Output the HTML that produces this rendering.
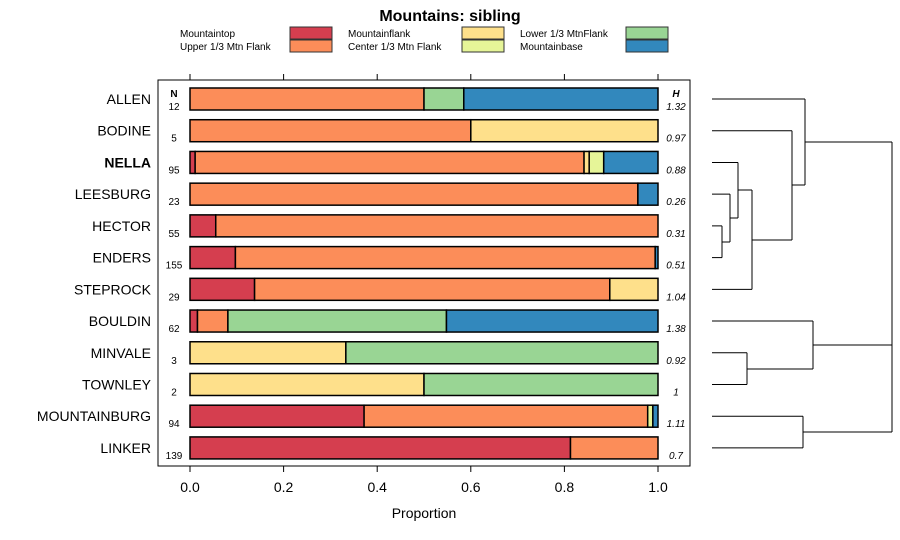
<!DOCTYPE html>
<html><head><meta charset="utf-8"><style>
body{margin:0;background:#fff;}
svg{display:block;font-family:"Liberation Sans",sans-serif;}
</style></head><body>
<svg id="chart" width="900" height="540" xmlns="http://www.w3.org/2000/svg">
<text x="450" y="21" text-anchor="middle" font-size="16" font-weight="bold">Mountains: sibling</text>
<g id="legend"></g>
<rect x="158" y="80" width="532" height="386" fill="none" stroke="#000" stroke-width="1"/>
<g id="bars"></g>
<g id="axis"></g>
<g id="dendro" stroke="#000" stroke-width="1" fill="none"></g>
<text x="424" y="518" text-anchor="middle" font-size="14">Proportion</text>
<text x="174" y="97" text-anchor="middle" font-size="10" font-weight="bold">N</text>
<text x="676" y="97" text-anchor="middle" font-size="10" font-weight="bold" font-style="italic">H</text>
</svg>
<script>
const categories=["Mountaintop","Upper 1/3 Mtn Flank","Mountainflank","Center 1/3 Mtn Flank","Lower 1/3 MtnFlank","Mountainbase"];
const colors=["#d53e4f","#fc8d59","#fee08b","#e6f598","#99d594","#3288bd"];
const sites=["ALLEN","BODINE","NELLA","LEESBURG","HECTOR","ENDERS","STEPROCK","BOULDIN","MINVALE","TOWNLEY","MOUNTAINBURG","LINKER"];
const nValues=[12,5,95,23,55,155,29,62,3,2,94,139];
const hLabels=["1.32","0.97","0.88","0.26","0.31","0.51","1.04","1.38","0.92","1","1.11","0.7"];
const sMountaintop=[0,0,0.011,0,0.055,0.097,0.138,0.016,0,0,0.372,0.813];
const sUpper=[0.5,0.6,0.831,0.957,0.945,0.897,0.759,0.065,0,0,0.606,0.187];
const sFlank=[0,0.4,0.011,0,0,0,0.103,0,0.333,0.5,0,0];
const sCenter=[0,0,0.031,0,0,0,0,0,0,0,0.011,0];
const sLower=[0.085,0,0,0,0,0,0,0.467,0.667,0.5,0,0];
const sBase=[0.415,0,0.116,0.043,0,0.006,0,0.452,0,0,0.011,0];
const ticks=[0,0.2,0.4,0.6,0.8,1.0];
const ns="http://www.w3.org/2000/svg";
function el(t,a,p){const e=document.createElementNS(ns,t);for(const k in a)e.setAttribute(k,a[k]);p.appendChild(e);return e;}
const x=v=>190+v*468;
const yRow=i=>99+i*31.72;
const series=[sMountaintop,sUpper,sFlank,sCenter,sLower,sBase];
const bars=document.getElementById('bars');
sites.forEach((s,i)=>{
  const yc=yRow(i);
  const lab=el('text',{x:151,y:yc+5,'text-anchor':'end','font-size':14,'font-weight':s==="NELLA"?'bold':'normal'},bars);
  lab.textContent=s;
  
  
  const nt=el('text',{x:174,y:yc+11,'text-anchor':'middle','font-size':10},bars);
  nt.textContent=nValues[i];
  
  
  const ht=el('text',{x:676,y:yc+11,'text-anchor':'middle','font-size':10,'font-style':'italic'},bars);
  ht.textContent=hLabels[i];
  
  
  let acc=0;
  series.forEach((ser,k)=>{
    const v=ser[i];if(v<=0)return;
    const r=el('rect',{x:x(acc),y:yc-11,width:x(acc+v)-x(acc),height:22,fill:colors[k],stroke:'#000','stroke-width':1.5},bars);
    
    
    acc+=v;
  });
});
const ax=document.getElementById('axis');
ticks.forEach(t=>{
  el('line',{x1:x(t),x2:x(t),y1:466,y2:472,stroke:'#000'},ax);
  el('line',{x1:x(t),x2:x(t),y1:80,y2:74,stroke:'#000'},ax);
  const tl=el('text',{x:x(t),y:492,'text-anchor':'middle','font-size':14},ax);
  tl.textContent=t.toFixed(1);
  
  
});
const lg=document.getElementById('legend');
const lpos=[[180,33],[180,46],[348,33],[348,46],[520,33],[520,46]];
const bxs=[290,290,462,462,626,626];
categories.forEach((c,k)=>{
  const t=el('text',{x:lpos[k][0],y:lpos[k][1]+4,'font-size':10},lg);
  t.textContent=c;
  
  
  el('rect',{x:bxs[k],y:lpos[k][1]-6,width:42,height:12,fill:colors[k],stroke:'#333'},lg);
});
const d=document.getElementById('dendro');
function seg(x1,y1,x2,y2){el('line',{x1,y1,x2,y2},d);}
const L=712;
function join(ya,xa,yb,xb,xm){seg(xa,ya,xm,ya);seg(xb,yb,xm,yb);seg(xm,ya,xm,yb);}
join(yRow(4),L,yRow(5),L,722);
join(yRow(3),L,242,722,730);
join(yRow(2),L,218,730,738);
join(190,738,yRow(6),L,752);
join(yRow(1),L,240,752,792);
join(yRow(0),L,185,792,805);
join(yRow(8),L,yRow(9),L,747);
join(yRow(7),L,369,747,813);
join(yRow(10),L,yRow(11),L,803);
join(142,805,432,803,892);
seg(813,345,892,345);
</script>
</body></html>
